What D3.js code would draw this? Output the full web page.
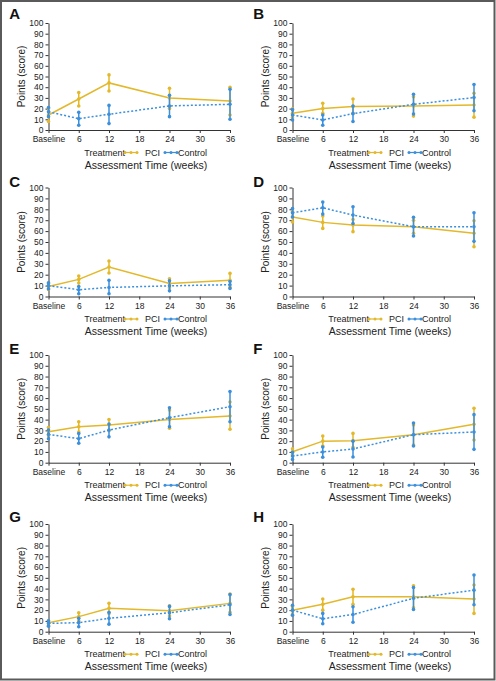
<!DOCTYPE html>
<html><head><meta charset="utf-8">
<script src="https://cdn.jsdelivr.net/npm/d3@7"></script>
<style>body{margin:0;background:#fff}svg{display:block}</style>
</head><body>
<script>
// ---- data ----
const panelLetters = ["A","B","C","D","E","F","G","H"];
const weeks = [0, 6, 12, 24, 36];
const xTickValues = [0, 6, 12, 18, 24, 30, 36];
const xTickLabels = ["Baseline", "6", "12", "18", "24", "30", "36"];
const yTickValues = [0, 10, 20, 30, 40, 50, 60, 70, 80, 90, 100];
const seriesNames = ["PCI", "Control"];

const pciMean = [
  [14, 29, 44, 30, 27],
  [15.6, 20, 22, 22.5, 23.4],
  [9.2, 15.7, 27, 12, 14.8],
  [73, 68, 65.5, 64, 58],
  [28.8, 33.4, 35, 40, 43.3],
  [10.2, 20, 20.4, 26, 35.6],
  [8.4, 14, 21.7, 19.5, 26.3],
  [20, 25.4, 32.5, 32.5, 30.3]
];
const pciLow = [
  [8, 22.5, 36.5, 20, 14],
  [11.5, 15.6, 15.6, 13, 12],
  [6.5, 12.3, 21.5, 8, 8.6],
  [68.3, 62.5, 59.5, 58, 45.7],
  [25, 28.5, 29.7, 32, 31],
  [7.4, 15.5, 14.2, 16.4, 21],
  [6, 10.2, 17, 14.6, 18],
  [16, 20, 25.4, 22.3, 17]
];
const pciHigh = [
  [20, 35, 51.5, 39, 40],
  [19.7, 25, 29, 31, 34.4],
  [12, 18.8, 32.6, 16.3, 21.2],
  [77.7, 73.8, 70.7, 70, 69.5],
  [32.7, 38, 40, 49, 56.3],
  [13, 24.8, 27.2, 35, 50.5],
  [10, 17.6, 26.3, 24, 35],
  [23.5, 30.3, 39.3, 42.7, 43.3]
];
const ctlMean = [
  [17, 10.6, 14.7, 22.5, 24],
  [14, 9.4, 15.3, 24, 30.3],
  [10, 6.2, 8.3, 9.8, 10.8],
  [76.8, 81.4, 74.7, 64, 64],
  [26.3, 22.3, 30.3, 41.8, 52],
  [6.2, 10, 12.7, 26, 28.5],
  [7.7, 8.4, 12.4, 17.6, 25],
  [20, 12, 16, 31, 38.6]
];
const ctlLow = [
  [12.5, 4.4, 6, 12.5, 10],
  [9.4, 4.4, 8, 15, 18],
  [7, 2.5, 2.5, 5.2, 7.4],
  [72.9, 75.6, 67, 55.5, 50.6],
  [22.3, 18, 24, 33.4, 38],
  [3, 5, 5.3, 15.5, 12.4],
  [5, 4.6, 7, 12, 16],
  [15.2, 7.4, 8.8, 20.6, 25]
];
const ctlHigh = [
  [21, 16.5, 23, 32.5, 38],
  [19, 14, 22.5, 33.4, 42.5],
  [12.6, 9.2, 14.8, 14.5, 13.8],
  [80.8, 86.6, 82.3, 72.6, 76.8],
  [30.3, 27, 36, 51, 66],
  [9.6, 14.6, 20, 36.8, 44.6],
  [10.2, 12.4, 18, 23.5, 34.4],
  [24.5, 17, 23.2, 41, 52.6]
];

// ---- layout ----
const W = 496, H = 681;
const colX0 = [48.5, 292.5], colX1 = [230, 474];
const rowTop = [23, 187.5, 355, 524];
const rowBottom = [130, 296.5, 462.7, 631.7];
const letterY = [19, 186.5, 353.5, 521.5];
const PCI_COLOR = "#e3b82a", CTL_COLOR = "#3b8fdc";
const FONT = "'Liberation Sans', Arial, Helvetica, sans-serif";
const TXT = "#222";

const svg = d3.select("body").append("svg").attr("width", W).attr("height", H);
svg.append("rect").attr("x", 1).attr("y", 1).attr("width", W - 2.5).attr("height", H - 2.5)
  .attr("fill", "#fff").attr("stroke", "#5a5a5a").attr("stroke-width", 2);

panelLetters.forEach((letter, i) => {
  const col = i % 2, row = Math.floor(i / 2);
  const x = d3.scaleLinear().domain([0, 36]).range([colX0[col], colX1[col]]);
  const y = d3.scaleLinear().domain([0, 100]).range([rowBottom[row], rowTop[row]]);
  const g = svg.append("g");

  // letter
  g.append("text").attr("x", colX0[col] - 39.3).attr("y", letterY[row])
    .attr("font-family", FONT).attr("font-weight", "bold").attr("font-size", 15)
    .attr("fill", "#111").text(letter);

  // axes
  const ya = g.append("g").attr("transform", `translate(${colX0[col]},0)`)
    .call(d3.axisLeft(y).tickValues(yTickValues).tickSize(3).tickSizeOuter(0).tickPadding(2));
  const xa = g.append("g").attr("transform", `translate(0,${rowBottom[row]})`)
    .call(d3.axisBottom(x).tickValues(xTickValues).tickFormat((d, k) => xTickLabels[k])
      .tickSize(3).tickSizeOuter(0).tickPadding(3));
  [ya, xa].forEach(a => {
    a.selectAll("text").attr("font-family", FONT).attr("font-size", 8.5).attr("fill", TXT);
    a.selectAll("path,line").attr("stroke", "#333");
  });

  // y title
  const yMid = (rowTop[row] + rowBottom[row]) / 2;
  g.append("text").attr("transform", `translate(${colX0[col] - 23.5},${yMid}) rotate(-90)`)
    .attr("text-anchor", "middle").attr("font-family", FONT).attr("font-size", 10)
    .attr("fill", TXT).text("Points (score)");

  // legend
  const ly = rowBottom[row] + 22.5;
  const lx = colX0[col];
  g.append("text").attr("x", lx + 35.8).attr("y", ly + 3).attr("font-family", FONT)
    .attr("font-size", 9).attr("fill", TXT).text("Treatment");
  [[PCI_COLOR, 76.5, seriesNames[0], 96.5], [CTL_COLOR, 116.5, null, 0]].forEach(([c, sx, name, tx]) => {
    g.append("line").attr("x1", lx + sx).attr("x2", lx + sx + 12).attr("y1", ly).attr("y2", ly)
      .attr("stroke", c).attr("stroke-width", 1.2);
    [0, 6, 12].forEach(o => g.append("circle").attr("cx", lx + sx + o).attr("cy", ly).attr("r", 1.5).attr("fill", c));
    if (name) g.append("text").attr("x", lx + tx).attr("y", ly + 3).attr("font-family", FONT)
      .attr("font-size", 9).attr("fill", TXT).text(name);
  });
  g.append("text").attr("x", lx + 129.5).attr("y", ly + 3).attr("font-family", FONT)
    .attr("font-size", 9).attr("fill", TXT).text(seriesNames[1]);

  // x title
  g.append("text").attr("x", colX0[col] + 97.5).attr("y", rowBottom[row] + 38.5)
    .attr("text-anchor", "middle").attr("font-family", FONT).attr("font-size", 10.5)
    .attr("fill", TXT).text("Assessment Time (weeks)");

  // series
  const series = [
    {mean: pciMean[i], lo: pciLow[i], hi: pciHigh[i], color: PCI_COLOR, dash: null},
    {mean: ctlMean[i], lo: ctlLow[i], hi: ctlHigh[i], color: CTL_COLOR, dash: "2,2"}
  ];
  series.forEach(s => {
    const line = d3.line().x((d, k) => x(weeks[k])).y(d => y(d));
    g.append("path").datum(s.mean).attr("d", line).attr("fill", "none")
      .attr("stroke", s.color).attr("stroke-width", 1.5)
      .attr("stroke-dasharray", s.dash);
    weeks.forEach((w, k) => {
      g.append("line").attr("x1", x(w)).attr("x2", x(w)).attr("y1", y(s.lo[k])).attr("y2", y(s.hi[k]))
        .attr("stroke", s.color).attr("stroke-width", 1.5);
      [s.lo[k], s.mean[k], s.hi[k]].forEach(v =>
        g.append("circle").attr("cx", x(w)).attr("cy", y(v)).attr("r", 1.8).attr("fill", s.color));
    });
  });
});
</script>
</body></html>
